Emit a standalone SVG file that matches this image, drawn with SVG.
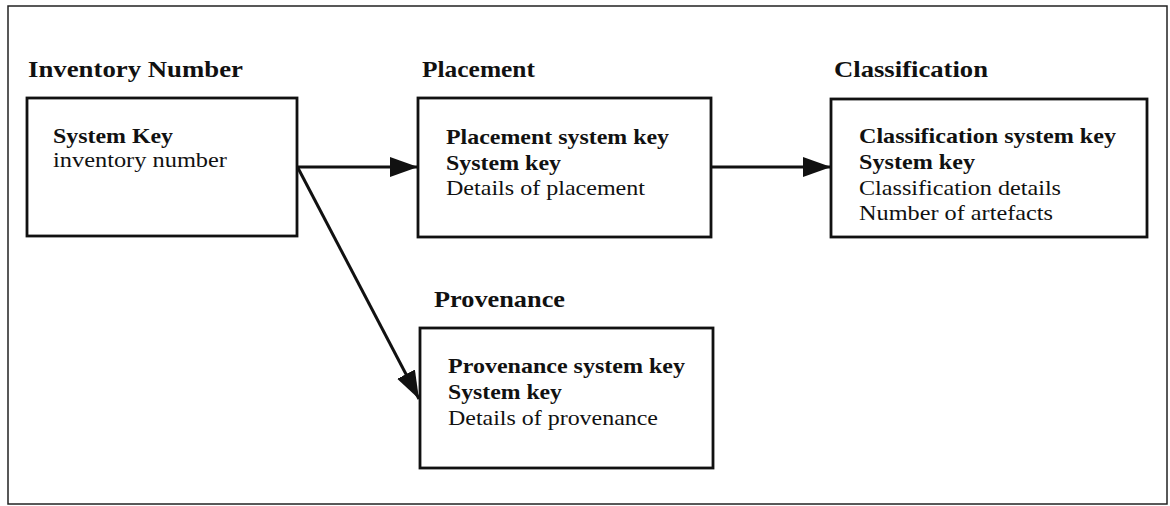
<svg xmlns="http://www.w3.org/2000/svg" width="1170" height="506" viewBox="0 0 1170 506">
<style>
text{font-family:"Liberation Serif","Times New Roman",serif;fill:#111}
.t{font-size:23px;font-weight:bold}
.b{font-size:21px;font-weight:bold}
.n{font-size:21px}
.box{fill:#fff;stroke:#111;stroke-width:2.8}
.c{stroke:#111;stroke-width:3;fill:none}
</style>
<defs>
<marker id="ah" viewBox="0 0 28 20" refX="28" refY="10" markerWidth="28" markerHeight="20" markerUnits="userSpaceOnUse" orient="auto">
<path d="M0,0 L28,10 L0,20 Z" fill="#111"/>
</marker>
</defs>
<rect x="0" y="0" width="1170" height="506" fill="#fff"/>
<rect x="8" y="6" width="1159" height="498" fill="none" stroke="#222" stroke-width="1.5"/>
<g id="connectors">
<line class="c" x1="298" y1="167" x2="418" y2="167" marker-end="url(#ah)"/>
<line class="c" x1="711" y1="167" x2="831" y2="167" marker-end="url(#ah)"/>
<line class="c" x1="298" y1="168" x2="419" y2="399" marker-end="url(#ah)"/>
</g>
<g id="inventory">
<text class="t" x="28" y="77" textLength="215" lengthAdjust="spacingAndGlyphs">Inventory Number</text>
<rect class="box" x="27" y="98" width="270" height="138"/>
<text class="b" x="53" y="143" textLength="120" lengthAdjust="spacingAndGlyphs">System Key</text>
<text class="n" x="53" y="167" textLength="174" lengthAdjust="spacingAndGlyphs">inventory number</text>
</g>
<g id="placement">
<text class="t" x="422" y="77" textLength="113" lengthAdjust="spacingAndGlyphs">Placement</text>
<rect class="box" x="418" y="98" width="293" height="139"/>
<text class="b" x="446" y="144" textLength="223" lengthAdjust="spacingAndGlyphs">Placement system key</text>
<text class="b" x="446" y="170" textLength="115" lengthAdjust="spacingAndGlyphs">System key</text>
<text class="n" x="446" y="195" textLength="199" lengthAdjust="spacingAndGlyphs">Details of placement</text>
</g>
<g id="classification">
<text class="t" x="834" y="77" textLength="154" lengthAdjust="spacingAndGlyphs">Classification</text>
<rect class="box" x="831" y="99" width="316" height="138"/>
<text class="b" x="859" y="143" textLength="257" lengthAdjust="spacingAndGlyphs">Classification system key</text>
<text class="b" x="859" y="169" textLength="116" lengthAdjust="spacingAndGlyphs">System key</text>
<text class="n" x="859" y="195" textLength="202" lengthAdjust="spacingAndGlyphs">Classification details</text>
<text class="n" x="859" y="220" textLength="194" lengthAdjust="spacingAndGlyphs">Number of artefacts</text>
</g>
<g id="provenance">
<text class="t" x="434" y="307" textLength="131" lengthAdjust="spacingAndGlyphs">Provenance</text>
<rect class="box" x="420" y="328" width="293" height="140"/>
<text class="b" x="448" y="373" textLength="237" lengthAdjust="spacingAndGlyphs">Provenance system key</text>
<text class="b" x="448" y="399" textLength="114" lengthAdjust="spacingAndGlyphs">System key</text>
<text class="n" x="448" y="425" textLength="210" lengthAdjust="spacingAndGlyphs">Details of provenance</text>
</g>
</svg>
